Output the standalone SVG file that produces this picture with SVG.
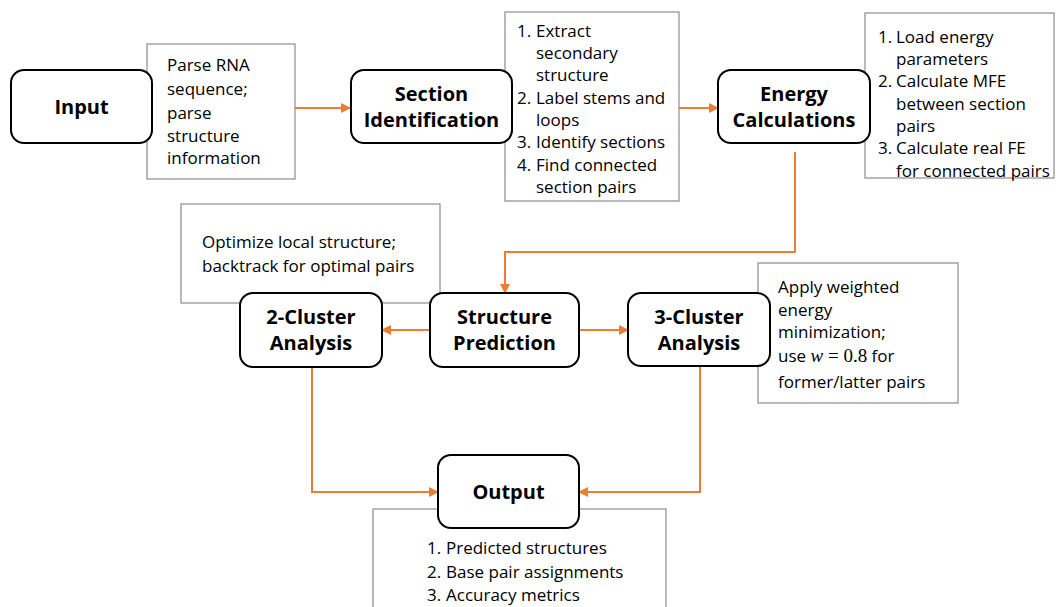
<svg xmlns="http://www.w3.org/2000/svg" width="1056" height="607" viewBox="0 0 1056 607">
<style>
.note{fill:#fff;stroke:#8c8c8c;stroke-width:1.2}
.node{fill:#fff;stroke:#000;stroke-width:2}
.nt{font-family:"Open Sans","Noto Sans",sans-serif;font-weight:bold;font-size:20px;fill:#000;text-anchor:middle}
.tx{font-family:"Open Sans","Noto Sans",sans-serif;font-size:17px;fill:#000}
.con{fill:none;stroke:#ED7D31;stroke-width:2}
</style>
<defs>
<marker id="ah" markerWidth="10" markerHeight="10" refX="9" refY="5" orient="auto" markerUnits="userSpaceOnUse">
<path d="M0,0 L10,5 L0,10 z" fill="#ED7D31"/>
</marker>
</defs>
<g id="notes">
<g id="note-input"><rect class="note" x="147" y="44" width="148" height="135"/>
<text class="tx" x="167" y="71">Parse RNA</text>
<text class="tx" x="167" y="95">sequence;</text>
<text class="tx" x="167" y="119">parse</text>
<text class="tx" x="167" y="142">structure</text>
<text class="tx" x="167" y="164">information</text></g>
<g id="note-section"><rect class="note" x="505" y="12" width="174" height="189"/>
<text class="tx" y="37"><tspan x="517">1.</tspan><tspan x="536">Extract</tspan></text>
<text class="tx" x="536" y="59">secondary</text>
<text class="tx" x="536" y="81">structure</text>
<text class="tx" y="104"><tspan x="517">2.</tspan><tspan x="536">Label stems and</tspan></text>
<text class="tx" x="536" y="126">loops</text>
<text class="tx" y="148"><tspan x="517">3.</tspan><tspan x="536">Identify sections</tspan></text>
<text class="tx" y="171"><tspan x="517">4.</tspan><tspan x="536">Find connected</tspan></text>
<text class="tx" x="536" y="193">section pairs</text></g>
<g id="note-energy"><rect class="note" x="865" y="13" width="189" height="165"/>
<text class="tx" y="43"><tspan x="878">1.</tspan><tspan x="896">Load energy</tspan></text>
<text class="tx" x="896" y="65">parameters</text>
<text class="tx" y="87"><tspan x="878">2.</tspan><tspan x="896">Calculate MFE</tspan></text>
<text class="tx" x="896" y="110">between section</text>
<text class="tx" x="896" y="132">pairs</text>
<text class="tx" y="154"><tspan x="878">3.</tspan><tspan x="896">Calculate real FE</tspan></text>
<text class="tx" x="896" y="177">for connected pairs</text></g>
<g id="note-2cluster"><rect class="note" x="181" y="204" width="259" height="99"/>
<text class="tx" x="202" y="248">Optimize local structure;</text>
<text class="tx" x="202" y="272">backtrack for optimal pairs</text></g>
<g id="note-3cluster"><rect class="note" x="758" y="263" width="200" height="140"/>
<text class="tx" x="778" y="293">Apply weighted</text>
<text class="tx" x="778" y="316">energy</text>
<text class="tx" x="778" y="338">minimization;</text>
<text class="tx" x="778" y="362">use <tspan font-family="Liberation Serif,serif" font-style="italic" font-size="19">w</tspan><tspan font-family="Liberation Serif,serif" font-size="19"> = 0.8</tspan> for</text>
<text class="tx" x="778" y="388">former/latter pairs</text></g>
<g id="note-output"><rect class="note" x="373" y="509" width="293" height="110"/>
<text class="tx" y="554"><tspan x="427">1.</tspan><tspan x="446">Predicted structures</tspan></text>
<text class="tx" y="578"><tspan x="427">2.</tspan><tspan x="446">Base pair assignments</tspan></text>
<text class="tx" y="601"><tspan x="427">3.</tspan><tspan x="446">Accuracy metrics</tspan></text></g>
</g>
<g id="connectors">
<path class="con" d="M295,108 H350" marker-end="url(#ah)"/>
<path class="con" d="M679,108 H718" marker-end="url(#ah)"/>
<path class="con" d="M795,152 V252 H505 V293" marker-end="url(#ah)"/>
<path class="con" d="M430,330 H382" marker-end="url(#ah)"/>
<path class="con" d="M579,330 H628" marker-end="url(#ah)"/>
<path class="con" d="M312,367 V492 H438" marker-end="url(#ah)"/>
<path class="con" d="M700,366 V492 H579" marker-end="url(#ah)"/>
</g>
<g id="node-input"><rect class="node" x="11" y="70" width="141" height="73" rx="13"/>
<text class="nt" x="81.5" y="114">Input</text></g>
<g id="node-section"><rect class="node" x="351" y="70" width="161" height="73" rx="13"/>
<text class="nt" x="431.5" y="101">Section</text>
<text class="nt" x="431.5" y="127">Identification</text></g>
<g id="node-energy"><rect class="node" x="718" y="70" width="152" height="73" rx="13"/>
<text class="nt" x="794" y="101">Energy</text>
<text class="nt" x="794" y="127">Calculations</text></g>
<g id="node-2cluster"><rect class="node" x="240" y="293" width="142" height="74" rx="13"/>
<text class="nt" x="311" y="324">2-Cluster</text>
<text class="nt" x="311" y="350">Analysis</text></g>
<g id="node-structure"><rect class="node" x="430" y="293" width="149" height="74" rx="13"/>
<text class="nt" x="504.5" y="324">Structure</text>
<text class="nt" x="504.5" y="350">Prediction</text></g>
<g id="node-3cluster"><rect class="node" x="628" y="293" width="142" height="73" rx="13"/>
<text class="nt" x="699" y="324">3-Cluster</text>
<text class="nt" x="699" y="350">Analysis</text></g>
<g id="node-output"><rect class="node" x="438" y="455" width="141" height="73" rx="13"/>
<text class="nt" x="508.5" y="499">Output</text></g>
</svg>
